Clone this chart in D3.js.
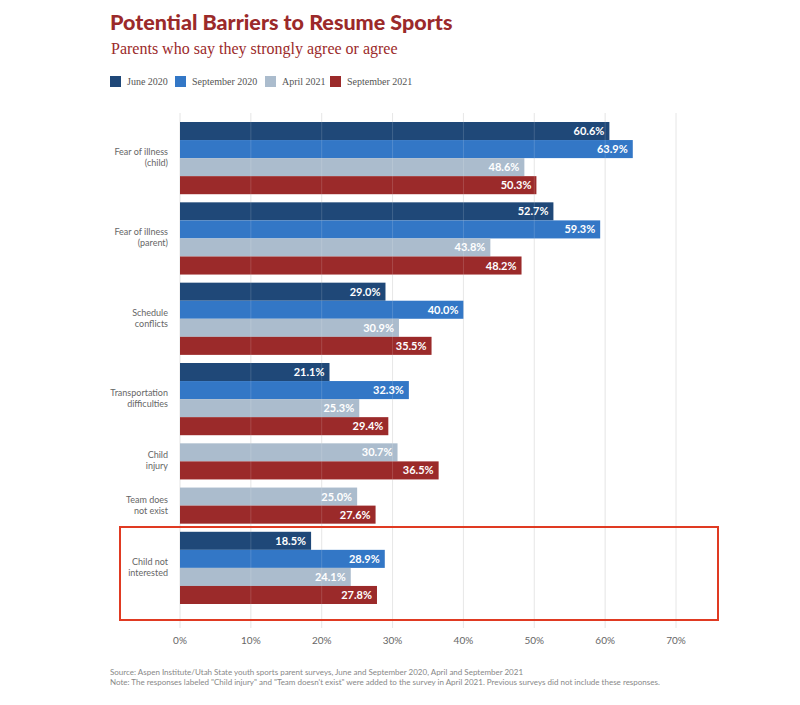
<!DOCTYPE html>
<html><head><meta charset="utf-8">
<script src="https://cdn.jsdelivr.net/npm/d3@7"></script>
<style>body{margin:0;background:#fff}</style></head>
<body><svg id="c" width="800" height="705"></svg>
<script>
const categories = [["Fear of illness","(child)"],["Fear of illness","(parent)"],["Schedule","conflicts"],["Transportation","difficulties"],["Child","injury"],["Team does","not exist"],["Child not","interested"]];
const seriesNames = ["June 2020","September 2020","April 2021","September 2021"];
const colors = ["#1f4878","#3377c6","#abbccd","#9b2a2a"];
const june2020 = [60.6,52.7,29.0,21.1,null,null,18.5];
const sep2020 = [63.9,59.3,40.0,32.3,null,null,28.9];
const apr2021 = [48.6,43.8,30.9,25.3,30.7,25.0,24.1];
const sep2021 = [50.3,48.2,35.5,29.4,36.5,27.6,27.8];
const xTicks = [0,10,20,30,40,50,60,70];
const series = [june2020,sep2020,apr2021,sep2021];

const svg = d3.select("#c");
const x = d3.scaleLinear().domain([0,70]).range([180,676]);
const GAP = 0.45;
let u = 0; const rows = [], groups = [];
categories.forEach((c,i)=>{
  const start = u;
  series.forEach((s,j)=>{ if(s[i]!=null){ rows.push({i,j,v:s[i],u}); u+=1; } });
  groups.push({c,start,end:u}); u+=GAP;
});
const total = u - GAP;
const y = d3.scaleLinear().domain([0,total]).range([122,604]);
const bh = y(1)-y(0);

svg.append("text").attr("x",110).attr("y",30).attr("fill","#9b2a2a").attr("font-family","Lato, sans-serif").attr("font-weight",900).attr("font-size",21.5).text("Potential Barriers to Resume Sports");
svg.append("text").attr("x",111).attr("y",54).attr("fill","#9b2a2a").attr("font-family","'Liberation Serif', serif").attr("font-size",16).text("Parents who say they strongly agree or agree");
const lx=[110,175,265,330];
seriesNames.forEach((n,k)=>{
  svg.append("rect").attr("x",lx[k]).attr("y",76).attr("width",11).attr("height",11).attr("fill",colors[k]);
  svg.append("text").attr("x",lx[k]+17).attr("y",85).attr("font-family","'Liberation Serif', serif").attr("font-size",10).attr("fill","#555").text(n);
});

svg.selectAll("line.g").data(xTicks).join("line").attr("x1",d=>x(d)).attr("x2",d=>x(d)).attr("y1",113).attr("y2",628).attr("stroke","#e4e4e4");
svg.selectAll("rect.b").data(rows).join("rect").attr("x",x(0)).attr("y",d=>y(d.u)).attr("width",d=>x(d.v)-x(0)).attr("height",bh).attr("fill",d=>colors[d.j]);
svg.selectAll("line.g2").data(xTicks.slice(1)).join("line").attr("x1",d=>x(d)).attr("x2",d=>x(d)).attr("y1",113).attr("y2",628).attr("stroke","#fff").attr("stroke-opacity",0.15);
svg.selectAll("text.v").data(rows).join("text").attr("x",d=>x(d.v)-5).attr("y",d=>y(d.u)+bh/2+4).attr("text-anchor","end").attr("fill","#fff").attr("font-family","Lato, sans-serif").attr("font-weight",700).attr("font-size",11).text(d=>d.v.toFixed(1)+"%");
groups.forEach(g=>{
  const cy=(y(g.start)+y(g.end))/2;
  const t=svg.append("text").attr("x",168).attr("y",cy-3).attr("text-anchor","end").attr("font-family","Lato, sans-serif").attr("font-size",9).attr("fill","#666");
  t.append("tspan").attr("x",168).text(g.c[0]);
  t.append("tspan").attr("x",168).attr("dy",11).text(g.c[1]);
});
svg.selectAll("text.t").data(xTicks).join("text").attr("x",d=>x(d)).attr("y",644).attr("text-anchor","middle").attr("font-family","Lato, sans-serif").attr("font-size",10).attr("fill","#666").text(d=>d+"%");
svg.append("rect").attr("x",120).attr("y",527).attr("width",598).attr("height",93).attr("fill","none").attr("stroke","#e03a22").attr("stroke-width",2);
svg.append("text").attr("x",110).attr("y",675).attr("font-family","Lato, sans-serif").attr("font-size",8).attr("fill","#888").text("Source: Aspen Institute/Utah State youth sports parent surveys, June and September 2020, April and September 2021");
svg.append("text").attr("x",110).attr("y",685).attr("font-family","Lato, sans-serif").attr("font-size",8).attr("fill","#888").text("Note: The responses labeled \"Child injury\" and \"Team doesn't exist\" were added to the survey in April 2021. Previous surveys did not include these responses.");
</script></body></html>
